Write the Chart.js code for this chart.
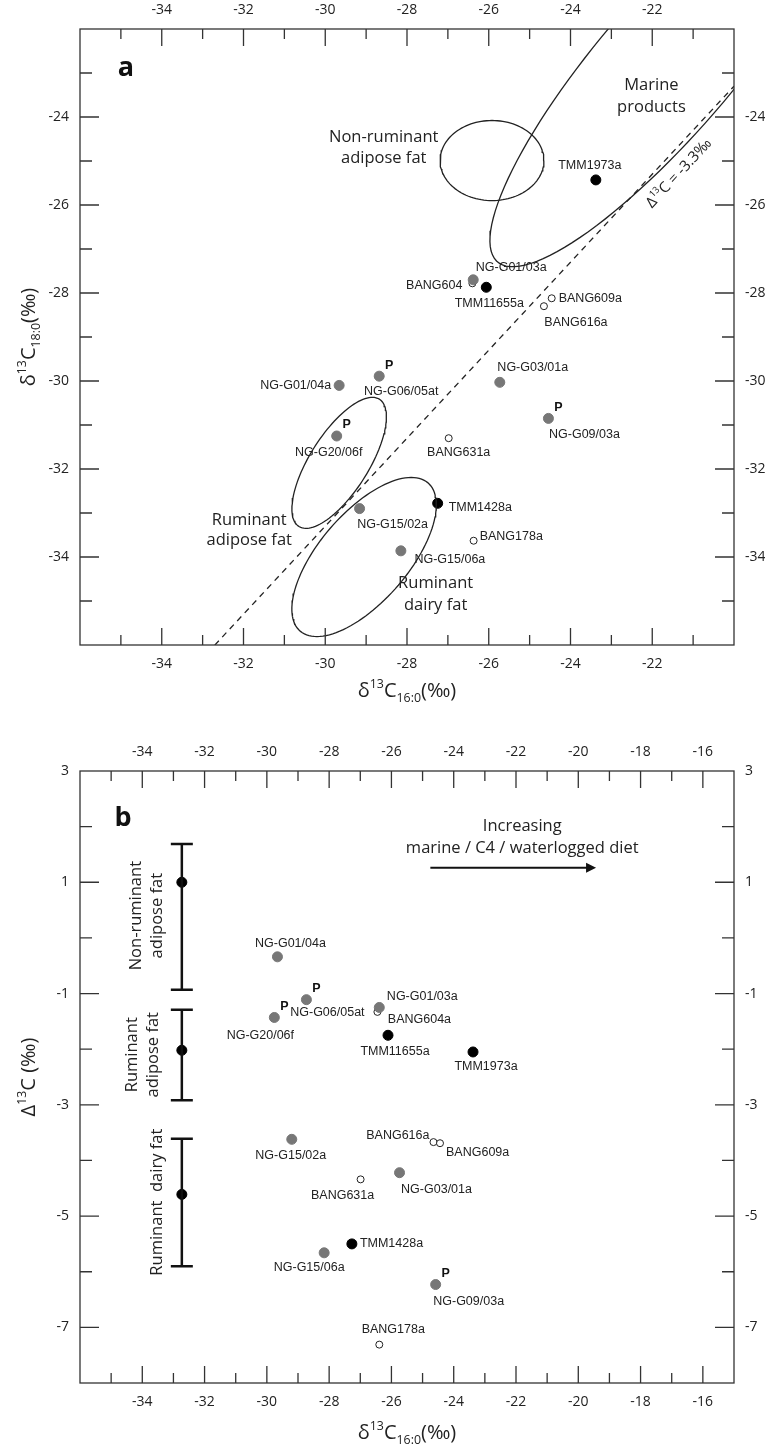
<!DOCTYPE html>
<html>
<head>
<meta charset="utf-8">
<script src="https://cdn.jsdelivr.net/npm/chart.js@4.4.1/dist/chart.umd.min.js"></script>
<style>
  body { margin: 0; background: #fff; }
  .panel { position: absolute; left: 0; width: 765px; }
  #pa { top: 0; height: 730px; }
  #pb { top: 730px; height: 718px; }
</style>
</head>
<body>
<div class="panel" id="pa"><canvas id="chartA"></canvas></div>
<div class="panel" id="pb"><canvas id="chartB"></canvas></div>
<script>
// ---- panel a data: d13C16:0 vs d13C18:0
const aGreyNames = ["NG-G01/03a", "NG-G01/04a", "NG-G06/05at", "NG-G03/01a", "NG-G09/03a", "NG-G20/06f", "NG-G15/02a", "NG-G15/06a"];
const aGreyX = [-26.38, -29.66, -28.68, -25.73, -24.54, -29.72, -29.16, -28.15];
const aGreyY = [-27.70, -30.10, -29.89, -30.03, -30.85, -31.25, -32.90, -33.86];
const aBlackNames = ["TMM1973a", "TMM11655a", "TMM1428a"];
const aBlackX = [-23.38, -26.06, -27.25];
const aBlackY = [-25.43, -27.87, -32.78];
const aOpenNames = ["BANG604", "BANG609a", "BANG616a", "BANG631a", "BANG178a"];
const aOpenX = [-26.40, -24.46, -24.65, -26.98, -26.37];
const aOpenY = [-27.78, -28.12, -28.30, -31.30, -33.63];
const deltaLine = -3.3;
// reference ellipses: [cx, cy, a, b, angleDeg]
const ellNonRum = [-25.92, -24.99, 1.27, 0.91, 0];
const ellMarine = [-21.65, -22.81, 6.1, 1.6, 47];
const ellRumAdi = [-29.66, -31.86, 1.75, 0.70, 55];
const ellRumDairy = [-29.05, -34.0, 2.3, 1.05, 46];

// ---- panel b data: d13C16:0 vs D13C
const bGreyNames = ["NG-G01/04a", "NG-G06/05at", "NG-G20/06f", "NG-G01/03a", "NG-G15/02a", "NG-G03/01a", "NG-G15/06a", "NG-G09/03a"];
const bGreyX = [-29.66, -28.73, -29.76, -26.39, -29.20, -25.74, -28.16, -24.58];
const bGreyY = [-0.34, -1.11, -1.43, -1.25, -3.62, -4.22, -5.66, -6.23];
const bBlackNames = ["TMM11655a", "TMM1973a", "TMM1428a"];
const bBlackX = [-26.11, -23.38, -27.27];
const bBlackY = [-1.75, -2.05, -5.50];
const bOpenNames = ["BANG604a", "BANG616a", "BANG609a", "BANG631a", "BANG178a"];
const bOpenX = [-26.45, -24.65, -24.44, -26.99, -26.39];
const bOpenY = [-1.33, -3.67, -3.69, -4.34, -7.31];
const refX = -32.73;
const refMid = [1.0, -2.02, -4.61];
const refLow = [-0.93, -2.92, -5.90];
const refHigh = [1.69, -1.29, -3.61];

// label placement (pixel offsets, alignment) per name
const aLabelPos = {
  "TMM1973a": [-6, -14, "center"], "NG-G01/03a": [38, -12, "center"], "BANG604": [-10, 2, "right"],
  "TMM11655a": [3, 16, "center"], "BANG609a": [7, 0, "left"], "BANG616a": [32, 16, "center"],
  "NG-G01/04a": [-8, 0, "right"], "NG-G06/05at": [22, 15, "center"], "NG-G03/01a": [33, -15, "center"],
  "NG-G09/03a": [36, 16, "center"], "NG-G20/06f": [-8, 17, "center"], "BANG631a": [10, 14, "center"],
  "TMM1428a": [11, 4, "left"], "NG-G15/02a": [33, 16, "center"], "BANG178a": [6, -4, "left"],
  "NG-G15/06a": [49, 9, "center"]
};
const aPMarks = ["NG-G06/05at", "NG-G09/03a", "NG-G20/06f"];
const bLabelPos = {
  "NG-G01/04a": [13, -13, "center"], "NG-G06/05at": [21, 13, "center"], "NG-G20/06f": [-14, 18, "center"],
  "NG-G01/03a": [43, -11, "center"], "BANG604a": [42, 8, "center"], "TMM11655a": [7, 16, "center"],
  "TMM1973a": [13, 15, "center"], "NG-G15/02a": [-1, 16, "center"], "BANG616a": [-4, -7, "right"],
  "BANG609a": [6, 9, "left"], "NG-G03/01a": [37, 17, "center"], "BANG631a": [-18, 16, "center"],
  "TMM1428a": [8, 0, "left"], "NG-G15/06a": [-15, 15, "center"], "NG-G09/03a": [33, 17, "center"],
  "BANG178a": [14, -15, "center"]
};
const bPMarks = ["NG-G06/05at", "NG-G20/06f", "NG-G09/03a"];

const LBL = "12.5px 'Liberation Sans', Arial, sans-serif";
const REG = "16.5px 'Open Sans', sans-serif";
const GREY = "#777";

function pts(xs, ys) { return xs.map((x, i) => ({ x, y: ys[i] })); }

function ellipsePoints(e) {
  const [cx, cy, a, b, ang] = e;
  const t = ang * Math.PI / 180, out = [];
  for (let i = 0; i <= 120; i++) {
    const s = i / 120 * 2 * Math.PI;
    const u = a * Math.cos(s), v = b * Math.sin(s);
    out.push({ x: cx + u * Math.cos(t) - v * Math.sin(t), y: cy + u * Math.sin(t) + v * Math.cos(t) });
  }
  return out;
}

function txt(ctx, s, x, y, font, align, color) {
  ctx.font = font; ctx.textAlign = align || "center"; ctx.textBaseline = "middle";
  ctx.fillStyle = color || "#222"; ctx.fillText(s, x, y);
}

// delta-style axis title: parts [text, mode] mode: n / sup / sub
function richText(ctx, parts, x, y, size) {
  let w = 0;
  parts.forEach(p => { ctx.font = (p[1] === "n" ? size : size * 0.62) + "px 'Open Sans', sans-serif"; w += ctx.measureText(p[0]).width; });
  let cx = x - w / 2;
  ctx.textBaseline = "alphabetic"; ctx.textAlign = "left"; ctx.fillStyle = "#222";
  parts.forEach(p => {
    const s = p[1] === "n" ? size : size * 0.62;
    ctx.font = s + "px 'Open Sans', sans-serif";
    const dy = p[1] === "sup" ? -size * 0.45 : p[1] === "sub" ? size * 0.25 : 0;
    ctx.fillText(p[0], cx, y + dy);
    cx += ctx.measureText(p[0]).width;
  });
}

const evenA = v => Math.abs(v % 2) === 0;
const oddB = v => Math.abs(v % 2) === 1;
// which tick values get long marks, per canvas
const majorRules = { chartA: [evenA, evenA], chartB: [evenA, oddB] };

// frame and inward tick marks
const framePlugin = {
  id: "frame",
  afterDraw(chart) {
    const [xMajor, yMajor] = majorRules[chart.canvas.id];
    const { ctx, chartArea: ca, scales } = chart;
    ctx.save();
    ctx.strokeStyle = "#333"; ctx.lineWidth = 1.3;
    ctx.strokeRect(ca.left, ca.top, ca.right - ca.left, ca.bottom - ca.top);
    const xs = scales.x, ys = scales.y;
    for (let v = Math.ceil(xs.min); v < xs.max; v++) {
      const p = xs.getPixelForValue(v);
      if (p <= ca.left + 1 || p >= ca.right - 1) continue;
      const L = xMajor(v) ? 17 : 10;
      ctx.beginPath();
      ctx.moveTo(p, ca.top); ctx.lineTo(p, ca.top + L);
      ctx.moveTo(p, ca.bottom); ctx.lineTo(p, ca.bottom - L);
      ctx.stroke();
    }
    for (let v = Math.ceil(ys.min); v < ys.max; v++) {
      const p = ys.getPixelForValue(v);
      if (p <= ca.top + 1 || p >= ca.bottom - 1) continue;
      const L = yMajor(v) ? 19 : 12;
      ctx.beginPath();
      ctx.moveTo(ca.left, p); ctx.lineTo(ca.left + L, p);
      ctx.moveTo(ca.right, p); ctx.lineTo(ca.right - L, p);
      ctx.stroke();
    }
    ctx.restore();
  }
};

function drawLabels(chart, names, xs, ys, pos) {
  const ctx = chart.ctx, sx = chart.scales.x, sy = chart.scales.y;
  names.forEach((n, i) => {
    const px = sx.getPixelForValue(xs[i]), py = sy.getPixelForValue(ys[i]);
    const p = pos[n];
    txt(ctx, n, px + p[0], py + p[1], LBL, p[2]);
  });
}
function drawP(chart, names, xs, ys, pmarks) {
  const ctx = chart.ctx, sx = chart.scales.x, sy = chart.scales.y;
  names.forEach((n, i) => {
    if (!pmarks.includes(n)) return;
    const px = sx.getPixelForValue(xs[i]), py = sy.getPixelForValue(ys[i]);
    txt(ctx, "P", px + 10, py - 11, "bold 12.5px 'Liberation Sans', Arial, sans-serif", "center", "#111");
  });
}

const decorA = {
  id: "decorA",
  afterDatasetsDraw(chart) {
    const ctx = chart.ctx, sx = chart.scales.x, sy = chart.scales.y, ca = chart.chartArea;
    ctx.save();
    [[aGreyNames, aGreyX, aGreyY], [aBlackNames, aBlackX, aBlackY], [aOpenNames, aOpenX, aOpenY]]
      .forEach(s => { drawLabels(chart, s[0], s[1], s[2], aLabelPos); drawP(chart, s[0], s[1], s[2], aPMarks); });
    const X = v => sx.getPixelForValue(v), Y = v => sy.getPixelForValue(v);
    txt(ctx, "Non-ruminant", X(-28.57), Y(-24.45), REG);
    txt(ctx, "adipose fat", X(-28.57), Y(-24.94), REG);
    txt(ctx, "Marine", X(-22.02), Y(-23.27), REG);
    txt(ctx, "products", X(-22.02), Y(-23.77), REG);
    txt(ctx, "Ruminant", X(-31.86), Y(-33.16), REG);
    txt(ctx, "adipose fat", X(-31.86), Y(-33.63), REG);
    txt(ctx, "Ruminant", X(-27.3), Y(-34.6), REG);
    txt(ctx, "dairy fat", X(-27.3), Y(-35.09), REG);
    txt(ctx, "a", ca.left + 46, ca.top + 39, "bold 27px 'Open Sans', sans-serif", "center", "#111");
    // rotated delta label along dashed line
    const ang = Math.atan2(Y(-24) - Y(-26), X(-20.7) - X(-22.7));
    ctx.translate(X(-21.36), Y(-25.27));
    ctx.rotate(ang);
    richText(ctx, [["Δ", "n"], ["13", "sup"], ["C = -3.3‰", "n"]], 0, 5, 15);
    ctx.restore();
    // axis titles
    ctx.save();
    richText(ctx, [["δ", "n"], ["13", "sup"], ["C", "n"], ["16:0", "sub"], ["(‰)", "n"]], (ca.left + ca.right) / 2, ca.bottom + 52, 20);
    ctx.translate(28, (ca.top + ca.bottom) / 2);
    ctx.rotate(-Math.PI / 2);
    richText(ctx, [["δ", "n"], ["13", "sup"], ["C", "n"], ["18:0", "sub"], ["(‰)", "n"]], 0, 7, 20);
    ctx.restore();
  }
};

const decorB = {
  id: "decorB",
  afterDatasetsDraw(chart) {
    const ctx = chart.ctx, sx = chart.scales.x, sy = chart.scales.y, ca = chart.chartArea;
    const X = v => sx.getPixelForValue(v), Y = v => sy.getPixelForValue(v);
    ctx.save();
    [[bGreyNames, bGreyX, bGreyY], [bBlackNames, bBlackX, bBlackY], [bOpenNames, bOpenX, bOpenY]]
      .forEach(s => { drawLabels(chart, s[0], s[1], s[2], bLabelPos); drawP(chart, s[0], s[1], s[2], bPMarks); });
    // reference ranges
    ctx.strokeStyle = "#111"; ctx.lineWidth = 2.5;
    const rx = X(refX);
    refMid.forEach((m, i) => {
      ctx.beginPath();
      ctx.moveTo(rx, Y(refLow[i])); ctx.lineTo(rx, Y(refHigh[i]));
      ctx.moveTo(rx - 11, Y(refLow[i])); ctx.lineTo(rx + 11, Y(refLow[i]));
      ctx.moveTo(rx - 11, Y(refHigh[i])); ctx.lineTo(rx + 11, Y(refHigh[i]));
      ctx.stroke();
    });
    const vlab = (lines, offs, mid) => {
      ctx.save();
      ctx.translate(rx, Y(mid)); ctx.rotate(-Math.PI / 2);
      lines.forEach((l, k) => txt(ctx, l, 0, offs[k], REG));
      ctx.restore();
    };
    vlab(["Non-ruminant", "adipose fat"], [-46, -25], 0.4);
    vlab(["Ruminant", "adipose fat"], [-50, -29], -2.1);
    vlab(["Ruminant  dairy fat"], [-25], -4.75);
    // arrow
    ctx.lineWidth = 2;
    const ay = Y(1.26), x0 = X(-24.75), x1 = X(-19.43);
    ctx.beginPath(); ctx.moveTo(x0, ay); ctx.lineTo(x1 - 8, ay); ctx.stroke();
    ctx.fillStyle = "#111";
    ctx.beginPath(); ctx.moveTo(x1, ay); ctx.lineTo(x1 - 10, ay - 5); ctx.lineTo(x1 - 10, ay + 5); ctx.closePath(); ctx.fill();
    txt(ctx, "Increasing", X(-21.8), Y(2.0), REG);
    txt(ctx, "marine / C4 / waterlogged diet", X(-21.8), Y(1.61), REG);
    txt(ctx, "b", ca.left + 43, ca.top + 47, "bold 27px 'Open Sans', sans-serif", "center", "#111");
    richText(ctx, [["δ", "n"], ["13", "sup"], ["C", "n"], ["16:0", "sub"], ["(‰)", "n"]], (ca.left + ca.right) / 2, ca.bottom + 56, 20);
    ctx.translate(28, (ca.top + ca.bottom) / 2);
    ctx.rotate(-Math.PI / 2);
    richText(ctx, [["Δ", "n"], ["13", "sup"], ["C (‰)", "n"]], 0, 7, 20);
    ctx.restore();
  }
};

function axis(pos, min, max, showLabel, fitSize) {
  const horiz = pos === "top" || pos === "bottom";
  return {
    type: "linear", position: pos, min, max,
    grid: { display: false }, border: { display: false },
    ticks: {
      stepSize: 1, autoSkip: false, maxRotation: 0, padding: 3, color: "#222",
      font: { family: "'Open Sans', sans-serif", size: 14 },
      callback: v => (showLabel(v) ? String(v) : "")
    },
    afterFit: s => { if (horiz) s.height = fitSize; else s.width = fitSize; }
  };
}

function pointSets(gx, gy, kx, ky, ox, oy) {
  return [
    { data: pts(gx, gy), backgroundColor: GREY, borderColor: GREY, pointRadius: 5, showLine: false },
    { data: pts(kx, ky), backgroundColor: "#000", borderColor: "#000", pointRadius: 5, showLine: false },
    { data: pts(ox, oy), backgroundColor: "#fff", borderColor: "#222", borderWidth: 1, pointRadius: 3.5, showLine: false }
  ];
}
function ellSet(e) {
  return { data: ellipsePoints(e), showLine: true, borderColor: "#222", borderWidth: 1.3, pointRadius: 0, fill: false, tension: 0 };
}

new Chart(document.getElementById("chartA"), {
  type: "scatter",
  data: {
    datasets: [
      ellSet(ellNonRum), ellSet(ellMarine), ellSet(ellRumAdi), ellSet(ellRumDairy),
      { data: [{ x: -36, y: -36 + deltaLine }, { x: -20, y: -20 + deltaLine }], showLine: true, borderColor: "#222", borderWidth: 1.3, borderDash: [6, 5], pointRadius: 0 },
      ...pointSets(aGreyX, aGreyY, aBlackX, aBlackY, aOpenX, aOpenY)
    ]
  },
  options: {
    responsive: true, maintainAspectRatio: false, animation: false,
    layout: { padding: 0 },
    plugins: { legend: { display: false }, tooltip: { enabled: false } },
    scales: {
      x: axis("bottom", -36, -20, v => evenA(v) && v > -36 && v < -20, 85),
      x2: axis("top", -36, -20, v => evenA(v) && v > -36 && v < -20, 29),
      y: axis("left", -36, -22, v => evenA(v) && v > -36 && v < -22, 80),
      y2: axis("right", -36, -22, v => evenA(v) && v > -36 && v < -22, 31)
    }
  },
  plugins: [framePlugin, decorA]
});

new Chart(document.getElementById("chartB"), {
  type: "scatter",
  data: {
    datasets: [
      { data: pts(refMid.map(() => refX), refMid), backgroundColor: "#000", borderColor: "#000", pointRadius: 5, showLine: false },
      ...pointSets(bGreyX, bGreyY, bBlackX, bBlackY, bOpenX, bOpenY)
    ]
  },
  options: {
    responsive: true, maintainAspectRatio: false, animation: false,
    layout: { padding: 0 },
    plugins: { legend: { display: false }, tooltip: { enabled: false } },
    scales: {
      x: axis("bottom", -36, -15, v => evenA(v) && v > -36 && v < -15, 65),
      x2: axis("top", -36, -15, v => evenA(v) && v > -36 && v < -15, 41),
      y: axis("left", -8, 3, v => oddB(v) && v > -8, 80),
      y2: axis("right", -8, 3, v => oddB(v) && v > -8, 31)
    }
  },
  plugins: [framePlugin, decorB]
});
</script>
</body>
</html>
